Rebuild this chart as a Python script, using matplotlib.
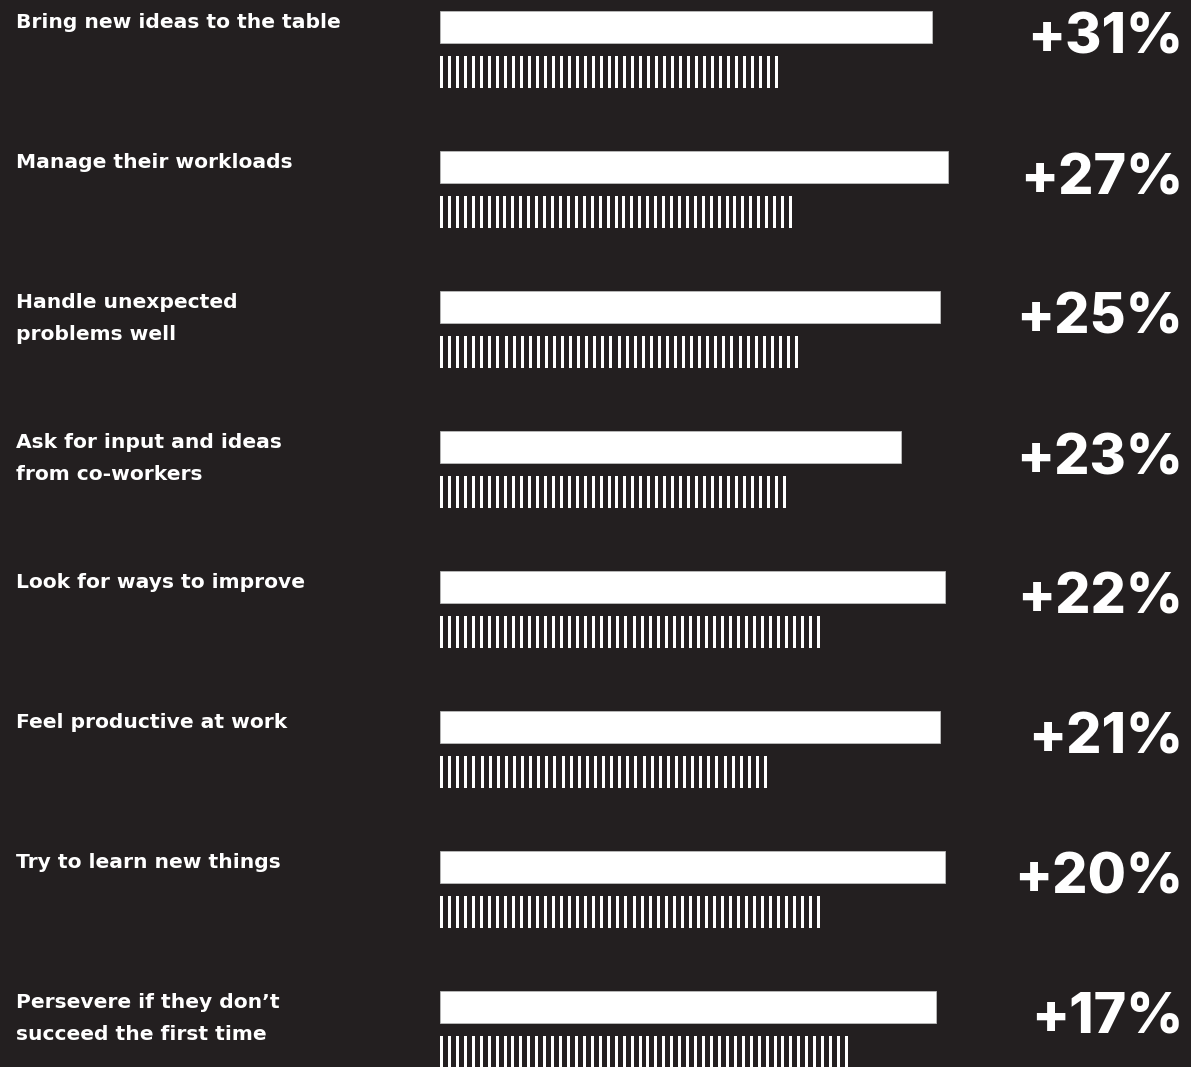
import numpy as np
import matplotlib
matplotlib.use("Agg")
import matplotlib.pyplot as plt

# behaviours, top to bottom
labels = [
    "Bring new ideas to the table",
    "Manage their workloads",
    "Handle unexpected\nproblems well",
    "Ask for input and ideas\nfrom co-workers",
    "Look for ways to improve",
    "Feel productive at work",
    "Try to learn new things",
    "Persevere if they don\u2019t\nsucceed the first time",
]
# bar lengths (same units for both series)
solid_vals = [492, 508, 500, 461, 505, 500, 505, 496]
striped_vals = [338, 352, 358, 346, 380, 327, 380, 408]
uplift = ["+31%", "+27%", "+25%", "+23%", "+22%", "+21%", "+20%", "+17%"]

W, H = 1191, 1067
bg = "#231f20"
fg = "white"

fig = plt.figure(figsize=(W / 100, H / 100), dpi=100)
fig.patch.set_facecolor(bg)

# axes for bars starts where the bars start (x=440 px)
x0 = 440
ax = fig.add_axes([x0 / W, 0, 1 - x0 / W, 1])
ax.set_facecolor(bg)
ax.set_xlim(0, W - x0)
ax.set_ylim(H, 0)
ax.axis("off")

row_gap = 140
bar_h = 32
pitch = 8.0
stripe_w = 3.0

for i in range(len(labels)):
    top = 11 + row_gap * i
    # solid bar
    ax.barh(top + bar_h / 2, solid_vals[i], height=bar_h, left=0,
            color=fg, edgecolor="#bdbdbd", linewidth=0.6)
    # striped bar
    stop = top + 45
    n = int(round((striped_vals[i] - stripe_w) / pitch)) + 1
    xs = np.linspace(0, striped_vals[i] - stripe_w, n)
    ax.bar(xs, bar_h, width=stripe_w, bottom=stop, align="edge",
           color=fg, linewidth=0)

    # label on the left
    for k, line in enumerate(labels[i].split("\n")):
        fig.text(16 / W, 1 - (top + 17 + 32 * k) / H, line, color=fg,
                 fontsize=14.6, fontweight="bold", family="DejaVu Sans",
                 ha="left", va="baseline")

    # percentage on the right
    fig.text(1183 / W, 1 - (top + 43) / H, uplift[i], color=fg,
             fontsize=40, fontweight="heavy", family="Inter",
             ha="right", va="baseline")

fig.savefig("out.png", dpi=100, facecolor=bg)
